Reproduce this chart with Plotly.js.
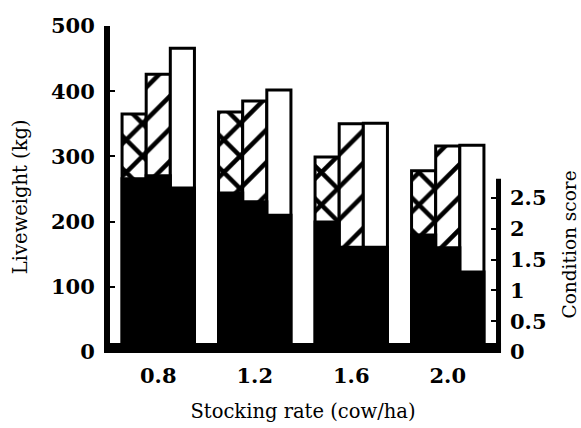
<!DOCTYPE html>
<html>
<head>
<meta charset="utf-8">
<script src="https://cdn.plot.ly/plotly-3.0.1.min.js"></script>
<style>html,body{margin:0;padding:0;background:#fff;}#chart{width:581px;height:428px;}</style>
</head>
<body>
<div id="chart"></div>
<script>
// Data
const categories = ['0.8', '1.2', '1.6', '2.0'];
// Liveweight (kg) - three bars per stocking rate
const liveweightCross = [365, 368, 299, 278];
const liveweightDiag  = [426, 385, 350, 316];
const liveweightWhite = [466, 402, 351, 317];
// Condition score - black bars (right axis)
const conditionCross = [2.81, 2.58, 2.11, 1.90];
const conditionDiag  = [2.86, 2.44, 1.70, 1.69];
const conditionWhite = [2.66, 2.22, 1.70, 1.30];
const leftTicks = [0, 100, 200, 300, 400, 500];
const rightTicks = [0, 0.5, 1, 1.5, 2, 2.5];

const serif = 'DejaVu Serif';
const outline = {color: 'black', width: 3};

function lwTrace(vals, group, pattern) {
  return {
    type: 'bar', x: categories, y: vals, yaxis: 'y', offsetgroup: group,
    marker: {color: 'white', line: outline, pattern: pattern},
    hoverinfo: 'skip'
  };
}
function csTrace(vals, group) {
  return {
    type: 'bar', x: categories, y: vals, yaxis: 'y2', offsetgroup: group,
    marker: {color: 'black', line: outline},
    hoverinfo: 'skip'
  };
}

const data = [
  lwTrace(liveweightCross, 'a', {shape: 'x', size: 23, solidity: 0.35, fgcolor: 'black', bgcolor: 'white'}),
  lwTrace(liveweightDiag, 'b', {shape: '/', size: 23, solidity: 0.2, fgcolor: 'black', bgcolor: 'white'}),
  lwTrace(liveweightWhite, 'c', {shape: '', fgcolor: 'black', bgcolor: 'white'}),
  csTrace(conditionCross, 'a'),
  csTrace(conditionDiag, 'b'),
  csTrace(conditionWhite, 'c')
];

const tickFont = {family: serif, size: 21, color: 'black', weight: 'bold'};

const layout = {
  width: 581, height: 428,
  margin: {l: 110, r: 85, t: 26, b: 76, pad: 0},
  paper_bgcolor: 'white', plot_bgcolor: 'white',
  showlegend: false,
  barmode: 'group', bargap: 0.25, bargroupgap: 0,
  xaxis: {
    type: 'category', range: [-0.5, 3.5], showline: false, ticks: '',
    showgrid: false, zeroline: false, tickfont: tickFont, ticklabelstandoff: 9,
    title: {text: 'Stocking rate (cow/ha)', font: {family: serif, size: 19.5, color: 'black'}, standoff: 17}
  },
  yaxis: {
    range: [0, 500], tickvals: leftTicks, showline: true, linewidth: 6, linecolor: 'black',
    ticks: 'inside', ticklen: 5, tickwidth: 2, tickcolor: 'black',
    showgrid: false, zeroline: false, tickfont: tickFont, ticklabelstandoff: 5
  },
  yaxis2: {
    overlaying: 'y', side: 'right', range: [0, 5.29], tickvals: rightTicks,
    showline: false, ticks: 'inside', ticklen: 5, tickwidth: 2, tickcolor: 'black',
    showgrid: false, zeroline: false, tickfont: tickFont, ticklabelstandoff: 13
  },
  annotations: [
    {text: 'Liveweight (kg)', xref: 'paper', yref: 'paper', x: -0.233, y: 0.475,
     xanchor: 'center', yanchor: 'middle', textangle: -90, showarrow: false,
     font: {family: serif, size: 19.5, color: 'black'}},
    {text: 'Condition score', xref: 'paper', yref: 'paper', x: 1.19, y: 0.331,
     xanchor: 'center', yanchor: 'middle', textangle: -90, showarrow: false,
     font: {family: serif, size: 18.5, color: 'black'}}
  ],
  shapes: [
    {type: 'rect', xref: 'paper', yref: 'paper', x0: -0.0155, x1: 1.013, y0: -0.003, y1: 0.0276,
     fillcolor: 'black', line: {width: 0}, layer: 'above'},
    {type: 'line', xref: 'paper', yref: 'y2', x0: 1.0065, x1: 1.0065, y0: 0, y1: 2.81,
     line: {color: 'black', width: 5}, layer: 'above'}
  ]
};

Plotly.newPlot('chart', data, layout, {staticPlot: true, displayModeBar: false});
</script>
</body>
</html>
